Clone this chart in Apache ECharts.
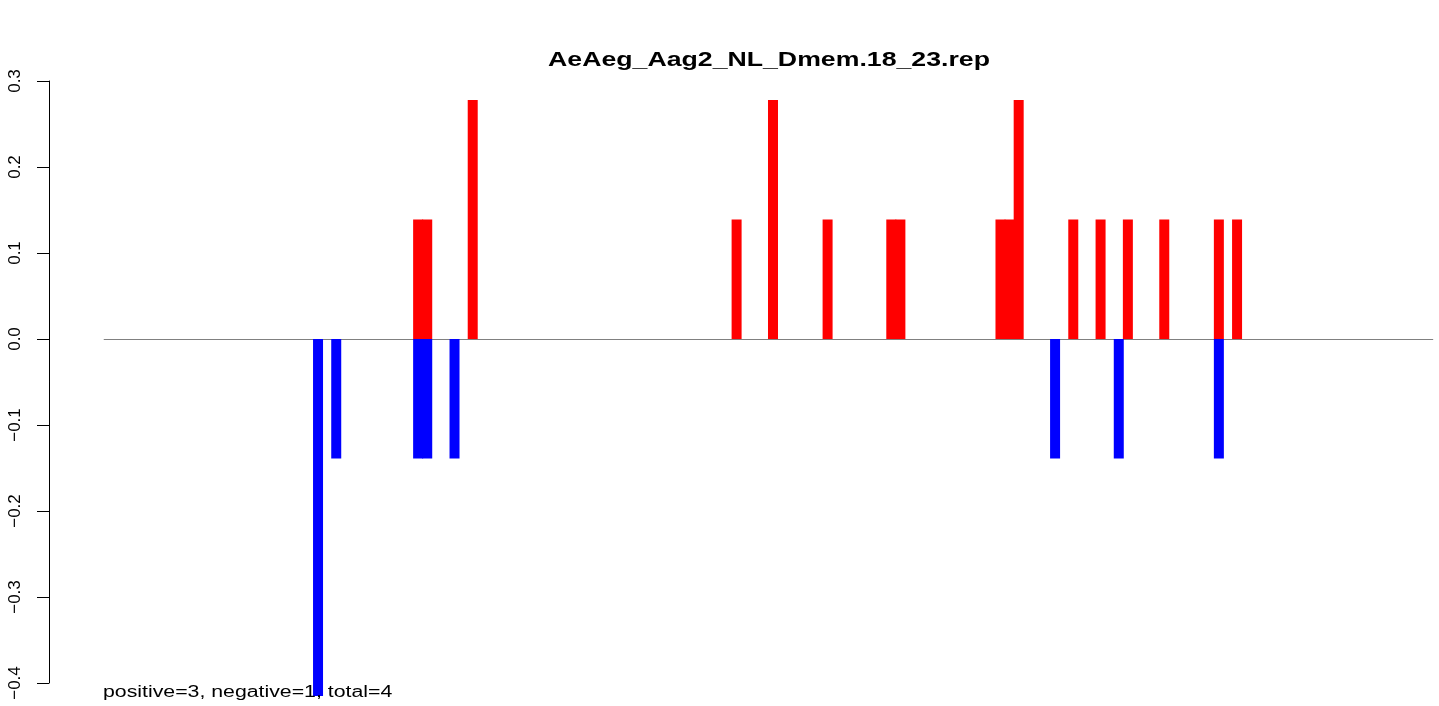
<!DOCTYPE html>
<html>
<head>
<meta charset="utf-8">
<script src="https://cdn.jsdelivr.net/npm/echarts@6/dist/echarts.min.js"></script>
<style>
  html, body { margin: 0; padding: 0; background: #ffffff; }
  #chart { width: 1439px; height: 706px; }
</style>
</head>
<body>
<div id="chart"></div>
<script>
// ---- data ----
var chartTitle = 'AeAeg_Aag2_NL_Dmem.18_23.rep';
var footnote = 'positive=3, negative=1, total=4';
var slotCount = 146;                       // number of bar slots along x
var positiveBars = [                        // [slot index, value]
  [34, 0.139], [35, 0.139], [40, 0.278], [69, 0.139], [73, 0.278],
  [79, 0.139], [86, 0.139], [87, 0.139], [98, 0.139], [99, 0.139],
  [100, 0.278], [106, 0.139], [109, 0.139], [112, 0.139], [116, 0.139],
  [122, 0.139], [124, 0.139]
];
var negativeBars = [
  [23, -0.415], [25, -0.139], [34, -0.139], [35, -0.139], [38, -0.139],
  [104, -0.139], [111, -0.139], [122, -0.139]
];
var yTicks = { min: -0.4, max: 0.3, interval: 0.1 };

var categories = [];
for (var i = 0; i < slotCount; i++) categories.push(String(i));

var FONT = 'Liberation Sans, Arial, sans-serif';
var chart = echarts.init(document.getElementById('chart'), null, { renderer: 'canvas' });
var gridLeft = 104.2, gridRight = 1439 - 1432.7;

chart.setOption({
  animation: false,
  backgroundColor: '#ffffff',
  textStyle: { fontFamily: FONT },
  grid: { left: gridLeft, right: gridRight, top: 81, bottom: 23, containLabel: false },
  xAxis: {
    type: 'category',
    data: categories,
    boundaryGap: true,
    axisLine: { show: true, onZero: true, lineStyle: { color: '#808080', width: 1.2 } },
    axisTick: { show: false },
    axisLabel: { show: false },
    splitLine: { show: false }
  },
  yAxis: {
    type: 'value',
    min: yTicks.min,
    max: yTicks.max,
    interval: yTicks.interval,
    offset: gridLeft - 49,
    axisLine: { show: true, lineStyle: { color: '#000', width: 1 } },
    axisTick: { show: true, length: 12, lineStyle: { color: '#000', width: 1 } },
    splitLine: { show: false },
    axisLabel: {
      rotate: 90,
      margin: 25,
      fontSize: 17,
      color: '#000',
      fontFamily: FONT,
      formatter: function (v) { return v.toFixed(1).replace('-', '\u2212'); }
    }
  },
  series: [
    {
      type: 'bar',
      data: positiveBars,
      barWidth: 10,
      barGap: '-100%',
      clip: false,
      itemStyle: { color: '#ff0000' }
    },
    {
      type: 'bar',
      data: negativeBars,
      barWidth: 10,
      barGap: '-100%',
      clip: false,
      itemStyle: { color: '#0000ff' }
    }
  ],
  graphic: [
    {
      type: 'text',
      x: 769,
      y: 51,
      scaleX: 1.368,
      style: {
        text: chartTitle, fontSize: 19.5, fontWeight: 'bold', fill: '#000', fontFamily: FONT,
        textAlign: 'center', textVerticalAlign: 'top'
      },
      z: 100
    },
    {
      type: 'text',
      x: 103,
      y: 685,
      scaleX: 1.33,
      style: {
        text: footnote, fontSize: 16, fill: '#000', fontFamily: FONT,
        textAlign: 'left', textVerticalAlign: 'top'
      },
      z: 100
    }
  ]
});
</script>
</body>
</html>
